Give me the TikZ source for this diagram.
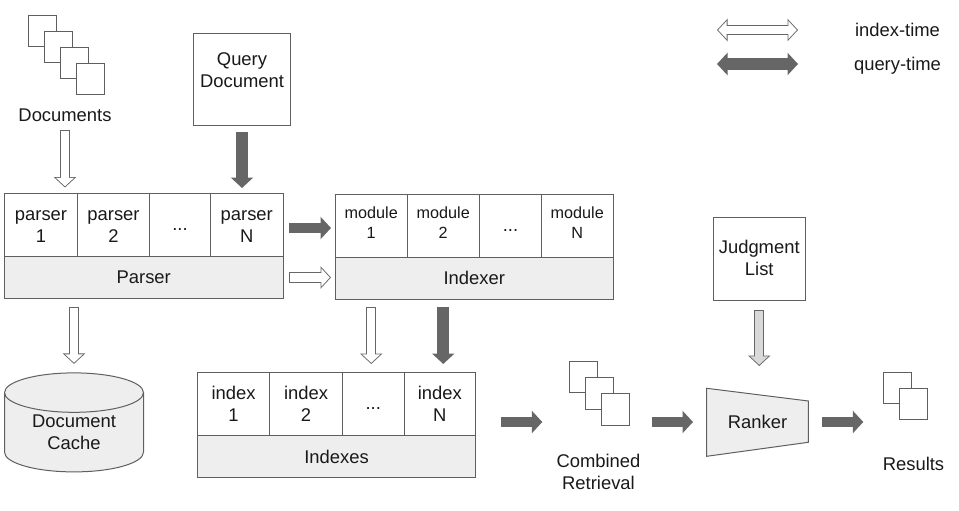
\documentclass[tikz,border=0pt]{standalone}
\usepackage{fontspec}
\setmainfont{Liberation Sans}
\usetikzlibrary{arrows.meta,shapes.geometric}

\definecolor{linegray}{HTML}{5F5F5F}
\definecolor{arrowgray}{HTML}{666666}
\definecolor{boxgray}{HTML}{EEEEEE}
\definecolor{listgray}{HTML}{D9D9D9}

\tikzset{
  box/.style={draw=linegray, line width=1pt, fill=white, inner sep=0pt, outer sep=0pt, align=center, text=black!90,
    font=\fontsize{18.4}{22}\selectfont},
  cell/.style={box, minimum height=63pt, text height=39pt, text depth=4pt},
  dotscell/.style={box, minimum height=63pt, text height=14pt, text depth=4pt},
  modulecell/.style={cell, text height=28.6pt, font=\fontsize{16.2}{20}\selectfont},
  bar/.style={box, fill=boxgray, minimum height=42pt},
  page/.style={draw=linegray, line width=1pt, fill=white, inner sep=0pt, outer sep=0pt, minimum width=28.4pt, minimum height=31.5pt},
  caption/.style={inner sep=0pt, outer sep=0pt, align=center, text=black!90, font=\fontsize{18.4}{22}\selectfont},
  outertip/.tip={Triangle[length=10.5pt,width=22pt]},
  innertip/.tip={Triangle[length=8.3pt,width=17.4pt]},
  % solid arrow: width, gap at start, gap at end
  queryarrow/.style n args={3}{draw=arrowgray, line width=#1pt, -{outertip}, shorten <=#2pt, shorten >=#3pt},
  % outlined arrow: inner colour, gap at start, gap at end
  outlinearrow/.style n args={3}{draw=arrowgray, line width=10.4pt, -{outertip}, shorten <=#2pt, shorten >=#3pt,
    postaction={draw=#1, line width=8.4pt, -{innertip}, shorten <=#2pt+1pt, shorten >=#3pt+1.25pt}},
  indexarrow/.style 2 args={outlinearrow={white}{#1}{#2}},
}

\begin{document}
\begin{tikzpicture}[x=1pt,y=-1pt]
    \useasboundingbox (0,0) rectangle (959,511);

    % legend
    \coordinate (indexL) at (717,30);
    \coordinate (indexR) at (798,30);
    \coordinate (queryL) at (717,64);
    \coordinate (queryR) at (798,64);
    \node[caption] at (897.5,30) (indextime) {index-time};
    \node[caption] at (897.5,65.5) (querytime) {query-time};
    \draw[draw=arrowgray, line width=10.4pt, {outertip}-{outertip},
      postaction={draw=white, line width=8.4pt, {innertip}-{innertip}, shorten <=1.25pt, shorten >=1.25pt}] (indexL) -- (indexR);
    \draw[draw=arrowgray, line width=12pt, {outertip}-{outertip}] (queryL) -- (queryR);

    % documents
    \node[page] at (42.5,30.8) (doc1) {};
    \node[page] at (58.5,46.8) (doc2) {};
    \node[page] at (74.5,62.8) (doc3) {};
    \node[page] at (90.5,78.8) (doc4) {};
    \node[caption] at (65,115) (documents) {Documents};
    \node[box, minimum width=97pt, minimum height=92pt, text height=21pt, text depth=4pt] at (242,79.5) (querydoc) {Query\\Document};

    % parser
    \node[cell, minimum width=73pt] at (41,225) (parser1) {parser\\1};
    \node[cell, minimum width=72pt] at (113.5,225) (parser2) {parser\\2};
    \node[dotscell, minimum width=61pt] at (180,225) (parserdots) {...};
    \node[cell, minimum width=72.5pt] at (246.75,225) (parserN) {parser\\N};
    \node[bar, minimum width=278.5pt] at (143.75,277.5) (parserbar) {Parser};

    % indexer
    \node[modulecell, minimum width=71.5pt] at (371.25,226) (module1) {module\\1};
    \node[modulecell, minimum width=72.5pt] at (443.25,226) (module2) {module\\2};
    \node[dotscell, minimum width=62pt] at (510.5,226) (moduledots) {...};
    \node[modulecell, minimum width=71.5pt] at (577.25,226) (moduleN) {module\\N};
    \node[bar, minimum width=277.5pt] at (474.25,278) (indexerbar) {Indexer};

    % indexes
    \node[cell, minimum width=72pt] at (233.5,404) (index1) {index\\1};
    \node[cell, minimum width=73pt] at (306,404) (index2) {index\\2};
    \node[dotscell, minimum width=61.5pt] at (373.25,404) (indexdots) {...};
    \node[cell, minimum width=71.5pt] at (439.75,404) (indexN) {index\\N};
    \node[bar, minimum width=278pt] at (336.5,456.5) (indexesbar) {Indexes};

    % cache
    \node[box, shape=cylinder, shape border rotate=90, aspect=0.47, fill=boxgray, minimum width=139pt, minimum height=99pt] at (74,432.5) (cache) {Document\\Cache};

    % retrieval
    \node[page] at (583.5,377.2) (retrieval1) {};
    \node[page] at (599.5,393.4) (retrieval2) {};
    \node[page] at (615.5,409.4) (retrieval3) {};
    \node[caption] at (598.5,472) (combined) {Combined\\Retrieval};

    % ranker
    \node[box, minimum width=92.5pt, minimum height=83pt, text height=36pt, text depth=4pt] at (759.25,259) (judgment) {Judgment\\List};
    \draw[draw=linegray, line width=1pt, fill=boxgray] (706.7,388.3) -- (808.3,401) -- (808.3,442.3) -- (706.7,456.3) -- cycle;
    \node[caption] at (757.5,422) (ranker) {Ranker};
    \coordinate (rankerin) at (706.7,422);
    \coordinate (rankerout) at (808.3,422);
    \coordinate (rankertop) at (759.25,394.7);

    % results
    \node[page] at (897.5,388) (result1) {};
    \node[page] at (913.5,404) (result2) {};
    \node[caption] at (913.5,464) (results) {Results};

    \draw[indexarrow={9}{6}] (documents.south) -- (documents.south |- parser1.north);
    \draw[queryarrow={12}{6}{5.5}] (querydoc.south) -- (querydoc.south |- parserN.north);
    \draw[queryarrow={10.4}{6}{4.5}] ([yshift=-3pt]parserN.east) -- ([yshift=-3pt]parserN.east -| module1.west);
    \draw[indexarrow={6}{4.5}] (parserbar.east) -- (parserbar.east -| indexerbar.west);
    \draw[indexarrow={8.5}{9}] (cache.north |- parserbar.south) -- (cache.north);
    \draw[indexarrow={8}{8.5}] (module1 |- indexerbar.south) -- (module1 |- index1.north);
    \draw[queryarrow={12}{8}{8.5}] (module2 |- indexerbar.south) -- (module2 |- index2.north);
    \draw[queryarrow={10.4}{25.5}{27}] (ranker -| indexN.east) -- (ranker -| retrieval1.west);
    \draw[queryarrow={10.4}{22.3}{13.7}] (ranker -| retrieval3.east) -- (rankerin);
    \draw[queryarrow={10.4}{13.7}{20}] (rankerout) -- (ranker -| result1.west);
    \draw[outlinearrow={listgray}{9.5}{28.7}] (judgment.south) -- (rankertop);
\end{tikzpicture}
\end{document}
